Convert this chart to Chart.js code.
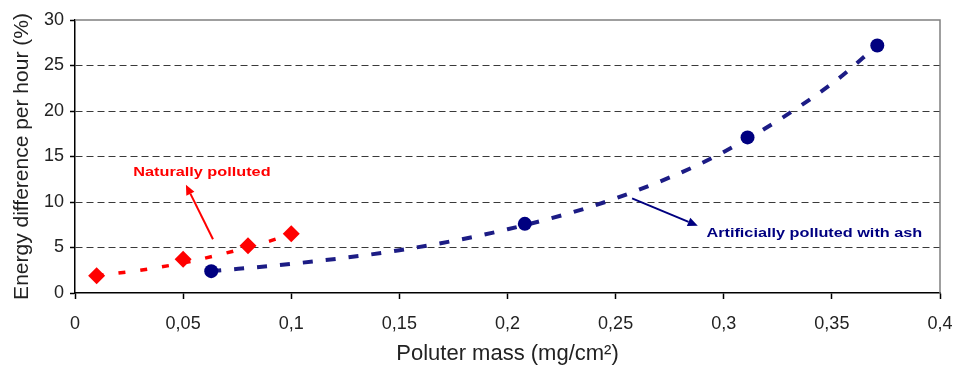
<!DOCTYPE html>
<html><head><meta charset="utf-8">
<script src="https://cdn.jsdelivr.net/npm/chart.js@4/dist/chart.umd.min.js"></script>
<style>html,body{margin:0;padding:0;background:#fff}#wrap{width:958px;height:371px;position:relative}</style>
</head><body><div id="wrap"><canvas id="c"></canvas></div>
<script>
// ---- data ----
const naturalX = [0.01, 0.05, 0.08, 0.1];
const naturalY = [1.9, 3.7, 5.2, 6.5];
const artificialX = [0.063, 0.208, 0.311, 0.371];
const artificialY = [2.4, 7.6, 17.1, 27.2];
const naturalTrendX = [0.01, 0.03, 0.05, 0.07, 0.09, 0.1];
const naturalTrendY = [1.9, 2.5, 3.3, 4.4, 5.7, 6.5];
const artificialTrendX = [0.063, 0.1, 0.15, 0.2, 0.25, 0.3, 0.35, 0.371];
const artificialTrendY = [2.4, 3.2, 4.7, 7.0, 10.4, 15.5, 23.0, 27.2];
const xTickValues = [0, 0.05, 0.1, 0.15, 0.2, 0.25, 0.3, 0.35, 0.4];
const yTickValues = [0, 5, 10, 15, 20, 25, 30];
const naturalLabel = "Naturally polluted";
const artificialLabel = "Artificially polluted with ash";
const xTitle = "Poluter mass (mg/cm\u00B2)";
const yTitle = "Energy difference per hour (%)";

const pts = (xs, ys) => xs.map((x, i) => ({x: x, y: ys[i]}));

// annotation anchors in data units
const notes = {
  natural: {text: {x: 0.0587, y: 13.3}, from: {x: 0.0638, y: 5.9}, to: {x: 0.0513, y: 11.9}},
  artificial: {text: {x: 0.292, y: 6.6}, from: {x: 0.2576, y: 10.4}, to: {x: 0.288, y: 7.4}}
};

function arrow(ctx, x1, y1, x2, y2, color) {
  const a = Math.atan2(y2 - y1, x2 - x1), L = 10, W = 4.5;
  const bx = x2 - L * Math.cos(a), by = y2 - L * Math.sin(a);
  ctx.save();
  ctx.strokeStyle = color; ctx.fillStyle = color; ctx.lineWidth = 2;
  ctx.beginPath(); ctx.moveTo(x1, y1); ctx.lineTo(bx, by); ctx.stroke();
  ctx.beginPath();
  ctx.moveTo(x2, y2);
  ctx.lineTo(bx + W * Math.sin(a), by - W * Math.cos(a));
  ctx.lineTo(bx - W * Math.sin(a), by + W * Math.cos(a));
  ctx.closePath(); ctx.fill();
  ctx.restore();
}

function stretchedText(ctx, text, x, y, align, sx) {
  ctx.save();
  const w = ctx.measureText(text).width * sx;
  const left = align === 'center' ? x - w / 2 : x;
  ctx.translate(left, y);
  ctx.scale(sx, 1);
  ctx.textAlign = 'left';
  ctx.fillText(text, 0, 0);
  ctx.restore();
}

const decor = {
  id: 'decor',
  beforeDatasetsDraw(chart) {
    const {ctx, chartArea: a} = chart;
    ctx.save();
    ctx.strokeStyle = '#808080'; ctx.lineWidth = 1.5;
    ctx.beginPath(); ctx.moveTo(a.left, a.top); ctx.lineTo(a.right, a.top); ctx.lineTo(a.right, a.bottom); ctx.stroke();
    ctx.restore();
  },
  afterDatasetsDraw(chart) {
    const {ctx} = chart, sx = chart.scales.x, sy = chart.scales.y;
    const P = p => [sx.getPixelForValue(p.x), sy.getPixelForValue(p.y)];
    ctx.save();
    ctx.font = 'bold 13px "Liberation Sans", Arial, sans-serif';
    ctx.textBaseline = 'middle';
    let t = P(notes.natural.text);
    ctx.fillStyle = '#ff0000';
    stretchedText(ctx, naturalLabel, t[0], t[1], 'center', 1.25);
    let f = P(notes.natural.from), e = P(notes.natural.to);
    arrow(ctx, f[0], f[1], e[0], e[1], '#ff0000');
    t = P(notes.artificial.text);
    ctx.fillStyle = '#000080';
    stretchedText(ctx, artificialLabel, t[0], t[1], 'left', 1.25);
    f = P(notes.artificial.from); e = P(notes.artificial.to);
    arrow(ctx, f[0], f[1], e[0], e[1], '#000080');
    ctx.restore();
  }
};

const fmt = v => String(Math.round(v * 100) / 100).replace('.', ',');
const FAM = '"Liberation Sans", Arial, sans-serif';

new Chart(document.getElementById('c'), {
  type: 'scatter',
  data: {datasets: [
    {label: 'natural', data: pts(naturalX, naturalY), pointStyle: 'rectRot', pointRadius: 8.5, backgroundColor: '#ff0000', borderColor: '#ff0000', borderWidth: 0, order: 0},
    {label: 'artificial', data: pts(artificialX, artificialY), pointStyle: 'circle', pointRadius: 7, backgroundColor: '#000080', borderColor: '#000080', borderWidth: 0, order: 0},
    {label: 'naturalTrend', data: pts(naturalTrendX, naturalTrendY), showLine: true, pointRadius: 0, borderColor: '#ff0000', borderWidth: 3.5, borderDash: [7, 15], cubicInterpolationMode: 'monotone', order: 1},
    {label: 'artificialTrend', data: pts(artificialTrendX, artificialTrendY), showLine: true, pointRadius: 0, borderColor: '#1c1c85', borderWidth: 4, borderDash: [10, 13], cubicInterpolationMode: 'monotone', order: 1}
  ]},
  options: {
    responsive: true, maintainAspectRatio: false, animation: false, devicePixelRatio: 1,
    layout: {padding: {top: 20, right: 18, left: 0, bottom: 0}},
    plugins: {legend: {display: false}, tooltip: {enabled: false}},
    scales: {
      x: {
        type: 'linear', min: 0, max: 0.4,
        afterBuildTicks: s => { s.ticks = xTickValues.map(v => ({value: v})); },
        afterFit: s => { s.height = 78; s.paddingLeft = 0; s.paddingRight = 0; },
        ticks: {callback: v => fmt(v), color: '#222', font: {family: FAM, size: 18}, padding: 14, maxRotation: 0, autoSkip: false},
        grid: {drawOnChartArea: false, drawTicks: true, tickLength: 6, tickColor: '#000', tickWidth: 1.5},
        border: {color: '#000', width: 1.5},
        title: {display: true, text: xTitle, color: '#222', font: {family: FAM, size: 22}, padding: {top: 0, bottom: 4}}
      },
      y: {
        type: 'linear', min: 0, max: 30,
        afterBuildTicks: s => { s.ticks = yTickValues.map(v => ({value: v})); },
        afterFit: s => { s.width = 75; s.paddingTop = 0; s.paddingBottom = 0; },
        ticks: {callback: v => fmt(v), color: '#222', font: {family: FAM, size: 18}, padding: 6},
        grid: {color: c => (c.tick && (c.tick.value === 0 || c.tick.value === 30)) ? 'rgba(0,0,0,0)' : '#3a3a3a', lineWidth: 1, drawTicks: true, tickLength: 5, tickColor: '#000', tickWidth: 1.5, tickBorderDash: []},
        border: {color: '#000', width: 1.5, dash: [7, 4]},
        title: {display: true, text: yTitle, color: '#222', font: {family: FAM, size: 21}, padding: {top: 10, bottom: 2}}
      }
    }
  },
  plugins: [decor]
});
</script></body></html>
